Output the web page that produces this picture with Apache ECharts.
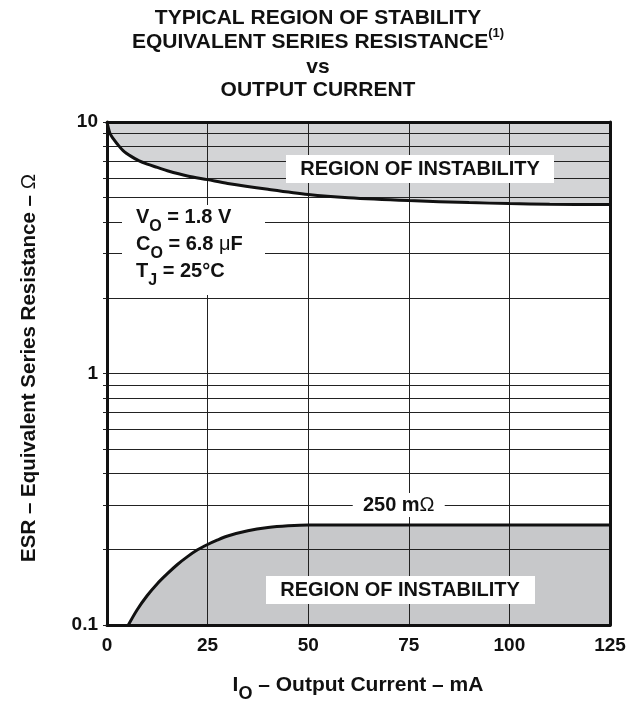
<!DOCTYPE html>
<html><head><meta charset="utf-8">
<script src="https://cdn.jsdelivr.net/npm/echarts@6/dist/echarts.min.js"></script>
<style>html,body{margin:0;padding:0;background:#fff}#c{width:636px;height:702px}</style>
</head><body><div id="c"></div>
<script>
// ---- data ----
const xTickValues = [0, 25, 50, 75, 100, 125];
const yLabelValues = [0.1, 1, 10];
const yLabelTexts = ['0.1', '1', '10'];
const yGridValues = [0.1, 0.2, 0.3, 0.4, 0.5, 0.6, 0.7, 0.8, 0.9, 1, 2, 3, 4, 5, 6, 7, 8, 9, 10];

// upper stability boundary (ESR max, ohm) vs output current (mA)
const upperCurrent = [0, 0.25, 0.75, 1.5, 2.5, 4, 6, 8, 10, 12.5, 15, 20, 25, 30, 40, 50, 60, 75, 90, 100, 110, 125];
const upperESR     = [10, 9.6, 9.0, 8.6, 8.2, 7.7, 7.3, 7.0, 6.8, 6.6, 6.4, 6.1, 5.9, 5.7, 5.4, 5.15, 5.0, 4.87, 4.78, 4.74, 4.71, 4.7];

// lower stability boundary (ESR min, ohm) vs output current (mA)
const lowerCurrent = [5.3, 7.5, 10, 12.5, 15, 17.5, 20, 22.5, 25, 27.5, 30, 35, 40, 45, 50, 75, 100, 125];
const lowerESR     = [0.1, 0.115, 0.131, 0.146, 0.16, 0.174, 0.187, 0.199, 0.209, 0.218, 0.226, 0.237, 0.244, 0.248, 0.25, 0.25, 0.25, 0.25];

const lowerLabelAnchor = [72.5, 0.3];

const FONT = '"Liberation Sans", Arial, sans-serif';
const INK = '#111';
const upperPairs = upperCurrent.map((x, i) => [x, upperESR[i]]);
const lowerPairs = lowerCurrent.map((x, i) => [x, lowerESR[i]]);

const chart = echarts.init(document.getElementById('c'), null, {renderer: 'canvas'});

function tok(size, weight, extra) {
  return Object.assign({fontSize: size, fontWeight: weight || 'bold', fontFamily: FONT, fill: INK, color: INK}, extra || {});
}
function text(x, y, str, rich, align, extra) {
  return Object.assign({
    type: 'text', x: x, y: y, z: 100, silent: true,
    style: {text: str, rich: rich, align: align || 'center', textAlign: align || 'center',
      verticalAlign: 'middle', textVerticalAlign: 'middle', fill: INK,
      font: 'bold 20px ' + FONT}
  }, extra || {});
}
function box(x, y, w, h) {
  return {type: 'rect', z: 99, silent: true, shape: {x: x, y: y, width: w, height: h}, style: {fill: '#fff'}};
}

const grid = {left: 107, right: 26, top: 122, bottom: 77};

const option = {
  animation: false,
  backgroundColor: '#fff',
  grid: grid,
  xAxis: [{
    type: 'value', min: 0, max: 125, interval: 25, position: 'bottom', z: 2,
    axisLine: {show: true, onZero: false, lineStyle: {color: INK, width: 3}},
    axisTick: {show: false},
    axisLabel: {color: INK, fontSize: 19, fontWeight: 'bold', fontFamily: FONT, margin: 11,
      customValues: xTickValues},
    splitLine: {show: true, lineStyle: {color: '#222', width: 1}}
  }, {
    type: 'value', min: 0, max: 125, position: 'top', z: 2,
    axisLine: {show: true, onZero: false, lineStyle: {color: INK, width: 3}},
    axisTick: {show: false}, axisLabel: {show: false}, splitLine: {show: false}
  }],
  yAxis: [{
    type: 'log', logBase: 10, min: 0.1, max: 10, position: 'left', z: 2,
    axisLine: {show: true, onZero: false, lineStyle: {color: INK, width: 3}},
    axisTick: {show: true, customValues: yGridValues, length: 4, lineStyle: {color: '#222', width: 1}},
    axisLabel: {customValues: yLabelValues, color: INK, fontSize: 19, fontWeight: 'bold', fontFamily: FONT, margin: 9,
      formatter: function (v) {
        const i = yLabelValues.findIndex(t => Math.abs(Math.log10(t) - Math.log10(v)) < 1e-6);
        return i >= 0 ? yLabelTexts[i] : '';
      }},
    splitLine: {show: true, lineStyle: {color: '#222', width: 1}}
  }, {
    type: 'log', logBase: 10, min: 0.1, max: 10, position: 'right', z: 2,
    axisLine: {show: true, onZero: false, lineStyle: {color: INK, width: 3}},
    axisTick: {show: false}, axisLabel: {show: false}, splitLine: {show: false}
  }],
  series: [
    {type: 'line', data: upperPairs, smooth: 0.3, showSymbol: false, silent: true, z: 1,
      lineStyle: {opacity: 0, width: 0}, areaStyle: {color: '#d3d4d6', opacity: 1, origin: 'end'}},
    {type: 'line', data: lowerPairs, smooth: 0.3, showSymbol: false, silent: true, z: 1,
      lineStyle: {opacity: 0, width: 0}, areaStyle: {color: '#c7c8ca', opacity: 1, origin: 'start'}},
    {type: 'line', data: upperPairs, smooth: 0.3, showSymbol: false, silent: true, z: 3,
      lineStyle: {color: INK, width: 3}},
    {type: 'line', data: lowerPairs, smooth: 0.3, showSymbol: false, silent: true, z: 3,
      lineStyle: {color: INK, width: 3}}
  ]
};
chart.setOption(option);

const p250 = chart.convertToPixel({xAxisIndex: 0, yAxisIndex: 0}, lowerLabelAnchor);

const T = tok(21);
const els = [
  // title
  text(318, 18, '{t|TYPICAL REGION OF STABILITY}', {t: T}),
  text(318, 40, '{t|EQUIVALENT SERIES RESISTANCE}{p|(1)}', {
    t: tok(21, 'bold', {lineHeight: 26, verticalAlign: 'bottom'}),
    p: tok(13, 'bold', {lineHeight: 12, verticalAlign: 'top'})}),
  text(318, 67, '{t|vs}', {t: T}),
  text(318, 90, '{t|OUTPUT CURRENT}', {t: T}),
  // upper region label
  box(286, 155, 268, 28),
  text(420, 169, '{t|REGION OF INSTABILITY}', {t: tok(20)}),
  // lower region label
  box(266, 576, 269, 28),
  text(400, 590, '{t|REGION OF INSTABILITY}', {t: tok(20)}),
  // 250 mOhm label
  box(p250[0] - 46, p250[1] - 12, 92, 24),
  text(p250[0], p250[1], '{t|250 m}{o|Ω}', {t: tok(20), o: tok(20, 'normal')}),
  // conditions box
  box(122, 205, 143, 90),
  text(136, 221, '{m|V}{s|O}{m| = 1.8 V}', {
    m: tok(20, 'bold', {lineHeight: 28, verticalAlign: 'top'}),
    s: tok(16, 'bold', {lineHeight: 14, verticalAlign: 'bottom'})}, 'left'),
  text(136, 248, '{m|C}{s|O}{m| = 6.8 }{u|μ}{m|F}', {
    m: tok(20, 'bold', {lineHeight: 28, verticalAlign: 'top'}),
    u: tok(20, 'normal', {lineHeight: 28, verticalAlign: 'top'}),
    s: tok(16, 'bold', {lineHeight: 14, verticalAlign: 'bottom'})}, 'left'),
  text(136, 275, '{m|T}{s|J}{m| = 25°C}', {
    m: tok(20, 'bold', {lineHeight: 28, verticalAlign: 'top'}),
    s: tok(16, 'bold', {lineHeight: 14, verticalAlign: 'bottom'})}, 'left'),
  // x axis title
  text(358, 689, '{m|I}{s|O}{m| – Output Current – mA}', {
    m: tok(21, 'bold', {lineHeight: 28, verticalAlign: 'top'}),
    s: tok(18, 'bold', {lineHeight: 14, verticalAlign: 'bottom'})}),
  // y axis title
  text(29, 368, '{m|ESR – Equivalent Series Resistance – }{o|Ω}', {
    m: tok(20.5), o: tok(20.5, 'normal')}, 'center', {rotation: Math.PI / 2})
];
chart.setOption({graphic: {elements: els}});
</script>
</body></html>
